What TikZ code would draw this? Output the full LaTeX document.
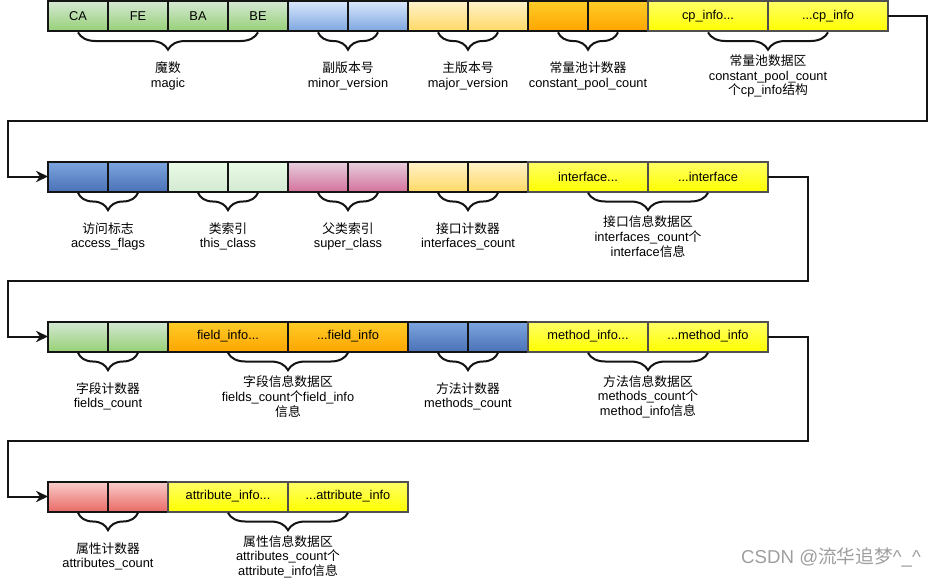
\documentclass[tikz,border=0pt]{standalone}
\usepackage{fontspec}
\setmainfont{Liberation Sans}
\newfontfamily\cjk{Noto Sans CJK SC}
\newcommand{\zh}[1]{{\cjk #1}}
\usepackage{xcolor}
\definecolor{trait}{HTML}{141414}
\definecolor{traitgris}{HTML}{505050}
\definecolor{vertA}{HTML}{D5E8D4}
\definecolor{vertB}{HTML}{97D077}
\definecolor{bleuA}{HTML}{DAE8FC}
\definecolor{bleuB}{HTML}{7EA6E0}
\definecolor{cremeA}{HTML}{FFF2CC}
\definecolor{cremeB}{HTML}{FFD966}
\definecolor{orangeA}{HTML}{FFCD28}
\definecolor{orangeB}{HTML}{FFA500}
\definecolor{jauneA}{HTML}{FFFF66}
\definecolor{jauneB}{HTML}{FFFF00}
\definecolor{marineA}{HTML}{7EA6E0}
\definecolor{marineB}{HTML}{4A72B6}
\definecolor{menthe}{HTML}{E9FCE6}
\definecolor{mentheB}{HTML}{D5EAD2}
\definecolor{roseA}{HTML}{E6D0DE}
\definecolor{roseB}{HTML}{D5739D}
\definecolor{rougeA}{HTML}{F8CECC}
\definecolor{rougeB}{HTML}{EA6B66}
\usepackage{tikz}
\usetikzlibrary{positioning,arrows.meta,calc,decorations.pathreplacing}

\begin{document}
\begin{tikzpicture}[x=0.75pt,y=-0.75pt,
  case/.style={draw=trait,line width=1.5pt,minimum width=45pt,minimum height=22.5pt,inner sep=0pt,outer sep=0pt,font=\fontsize{9.6}{11}\selectfont},
  large/.style={case,minimum width=90pt,draw=traitgris,top color=jauneA,bottom color=jauneB},
  vert/.style={top color=vertA,bottom color=vertB},
  bleu/.style={top color=bleuA,bottom color=bleuB},
  creme/.style={top color=cremeA,bottom color=cremeB},
  orng/.style={top color=orangeA,bottom color=orangeB},
  marine/.style={top color=marineA,bottom color=marineB},
  pale/.style={top color=menthe,bottom color=mentheB},
  rose/.style={top color=roseA,bottom color=roseB},
  rouge/.style={top color=rougeA,bottom color=rougeB},
  acc/.style={decorate,decoration={brace,mirror,amplitude=13pt,raise=1pt},line width=1.5pt,draw=trait},
  lab/.style={font=\fontsize{9.6}{11}\selectfont,align=center},
  fl/.style={-{Stealth[length=9pt,width=8.5pt]},line width=1.5pt,draw=trait}
]
\useasboundingbox (0,0) rectangle (937,578);

\node[case,vert] (ca) at (78,16) {CA};
\node[case,vert,right=0pt of ca] (fe) {FE};
\node[case,vert,right=0pt of fe] (ba) {BA};
\node[case,vert,right=0pt of ba] (be) {BE};
\node[case,bleu,right=0pt of be] (minA) {};
\node[case,bleu,right=0pt of minA] (minB) {};
\node[case,creme,right=0pt of minB] (majA) {};
\node[case,creme,right=0pt of majA] (majB) {};
\node[case,orng,right=0pt of majB] (cpcA) {};
\node[case,orng,right=0pt of cpcA] (cpcB) {};
\node[large,right=0pt of cpcB] (cpA) {cp\_info...};
\node[large,right=0pt of cpA] (cpB) {...cp\_info};

\node[case,marine] (afA) at (78,176.5) {};
\node[case,marine,right=0pt of afA] (afB) {};
\node[case,pale,right=0pt of afB] (tcA) {};
\node[case,pale,right=0pt of tcA] (tcB) {};
\node[case,rose,right=0pt of tcB] (scA) {};
\node[case,rose,right=0pt of scA] (scB) {};
\node[case,creme,right=0pt of scB] (icA) {};
\node[case,creme,right=0pt of icA] (icB) {};
\node[large,right=0pt of icB] (ifA) {interface...};
\node[large,right=0pt of ifA] (ifB) {...interface};

\node[case,vert] (fcA) at (78,336.5) {};
\node[case,vert,right=0pt of fcA] (fcB) {};
\node[large,orng,draw=trait,right=0pt of fcB] (fiA) {field\_info...};
\node[large,orng,draw=trait,right=0pt of fiA] (fiB) {...field\_info};
\node[case,marine,right=0pt of fiB] (mcA) {};
\node[case,marine,right=0pt of mcA] (mcB) {};
\node[large,right=0pt of mcB] (miA) {method\_info...};
\node[large,right=0pt of miA] (miB) {...method\_info};

\node[case,rouge] (acA) at (78,496.5) {};
\node[case,rouge,right=0pt of acA] (acB) {};
\node[large,right=0pt of acB] (aiA) {attribute\_info...};
\node[large,right=0pt of aiA] (aiB) {...attribute\_info};

\draw[acc] (ca.south) -- (be.south);
\draw[acc] (minA.south) -- (minB.south);
\draw[acc] (majA.south) -- (majB.south);
\draw[acc] (cpcA.south) -- (cpcB.south);
\draw[acc] (cpA.south) -- (cpB.south);
\draw[acc] (afA.south) -- (afB.south);
\draw[acc] (tcA.south) -- (tcB.south);
\draw[acc] (scA.south) -- (scB.south);
\draw[acc] (icA.south) -- (icB.south);
\draw[acc] (ifA.south) -- (ifB.south);
\draw[acc] (fcA.south) -- (fcB.south);
\draw[acc] (fiA.south) -- (fiB.south);
\draw[acc] (mcA.south) -- (mcB.south);
\draw[acc] (miA.south) -- (miB.south);
\draw[acc] (acA.south) -- (acB.south);
\draw[acc] (aiA.south) -- (aiB.south);

\node[lab] (lmagic) at ($(ca)!.5!(be)+(0,60)$) {\zh{魔数}\\magic};
\node[lab] (lmin) at ($(minA)!.5!(minB)+(0,60)$) {\zh{副版本号}\\minor\_version};
\node[lab] (lmaj) at ($(majA)!.5!(majB)+(0,60)$) {\zh{主版本号}\\major\_version};
\node[lab] (lcpc) at ($(cpcA)!.5!(cpcB)+(0,60)$) {\zh{常量池计数器}\\constant\_pool\_count};
\node[lab] (lcp) at ($(cpA)!.5!(cpB)+(0,60)$) {\zh{常量池数据区}\\constant\_pool\_count\\\zh{个}cp\_info\zh{结构}};
\node[lab] (laf) at ($(afA)!.5!(afB)+(0,60)$) {\zh{访问标志}\\access\_flags};
\node[lab] (ltc) at ($(tcA)!.5!(tcB)+(0,60)$) {\zh{类索引}\\this\_class};
\node[lab] (lsc) at ($(scA)!.5!(scB)+(0,60)$) {\zh{父类索引}\\super\_class};
\node[lab] (lic) at ($(icA)!.5!(icB)+(0,60)$) {\zh{接口计数器}\\interfaces\_count};
\node[lab] (lif) at ($(ifA)!.5!(ifB)+(0,60)$) {\zh{接口信息数据区}\\interfaces\_count\zh{个}\\interface\zh{信息}};
\node[lab] (lfc) at ($(fcA)!.5!(fcB)+(0,60)$) {\zh{字段计数器}\\fields\_count};
\node[lab] (lfi) at ($(fiA)!.5!(fiB)+(0,60)$) {\zh{字段信息数据区}\\fields\_count\zh{个}field\_info\\\zh{信息}};
\node[lab] (lmc) at ($(mcA)!.5!(mcB)+(0,60)$) {\zh{方法计数器}\\methods\_count};
\node[lab] (lmi) at ($(miA)!.5!(miB)+(0,60)$) {\zh{方法信息数据区}\\methods\_count\zh{个}\\method\_info\zh{信息}};
\node[lab] (lac) at ($(acA)!.5!(acB)+(0,60)$) {\zh{属性计数器}\\attributes\_count};
\node[lab] (lai) at ($(aiA)!.5!(aiB)+(0,60)$) {\zh{属性信息数据区}\\attributes\_count\zh{个}\\attribute\_info\zh{信息}};

\coordinate (r1) at (8,121);
\coordinate (r2) at (8,281);
\coordinate (r3) at (8,441);
\draw[fl] (cpB.east) -- ++(39,0) |- (r1) |- (afA.west);
\draw[fl] (ifB.east) -- ++(40,0) |- (r2) |- (fcA.west);
\draw[fl] (miB.east) -- ++(40,0) |- (r3) |- (acA.west);

\node[font=\fontsize{14}{16}\selectfont,text=black!38] (wm) at (831,557) {CSDN @\zh{流华追梦}\textasciicircum\_\textasciicircum};
\end{tikzpicture}
\end{document}
